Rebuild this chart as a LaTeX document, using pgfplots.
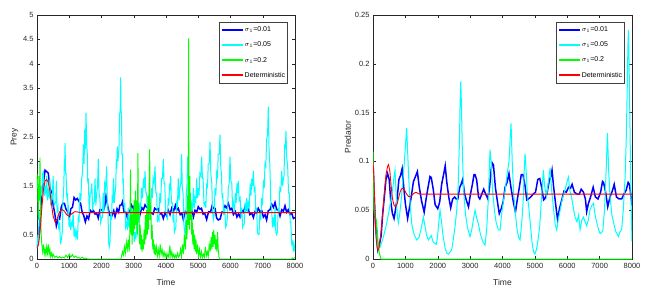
\documentclass[border=0pt]{standalone}
\usepackage{fontspec}
\setmainfont{Liberation Sans}
\usepackage{pgfplots}
\pgfplotsset{compat=1.18}
\definecolor{mblue}{rgb}{0,0,1}
\definecolor{mcyan}{rgb}{0,1,1}
\definecolor{mgreen}{rgb}{0,1,0}
\definecolor{mred}{rgb}{1,0,0}
\definecolor{frame}{gray}{0.15}
\pgfplotsset{
  mystyle/.style={
    scale only axis,
    anchor=south west,
    height=244pt,
    xmin=0, xmax=8000,
    xtick={0,1000,...,8000},
    tick pos=both, tick align=inside,
    major tick length=3pt,
    axis line style={frame, line width=0.5pt},
    tick style={frame, line width=0.4pt},
    every tick label/.append style={font=\fontsize{7.5}{9}\selectfont, text=frame},
    /pgf/number format/assume math mode=true,
    /pgf/number format/1000 sep={},
    scaled x ticks=false, scaled y ticks=false,
    yticklabel style={/pgf/number format/fixed, /pgf/number format/precision=2},
    xticklabel style={yshift=-1pt},
    label style={font=\fontsize{8.5}{10}\selectfont, text=frame},
    xlabel={Time},
    xlabel style={at={(axis description cs:0.5,-0.098)}, anchor=center},
    legend style={at={(1,1)}, anchor=north east, xshift=-7pt, yshift=-7pt,
      font=\fontsize{7}{8}\selectfont, draw=black!75, line width=0.6pt,
      inner xsep=1.5pt, inner ysep=2.5pt, row sep=4.6pt,
      nodes={inner sep=1pt, text height=6pt, text depth=2.5pt},
      cells={anchor=west}},
    legend image code/.code={\draw[#1, line width=2pt] (0pt,0pt) -- (21pt,0pt);},
  }
}
\begin{document}
\begin{tikzpicture}
\path[use as bounding box] (0,0) rectangle (652pt,292pt);
% ---------------- Prey ----------------
\begin{axis}[mystyle, at={(37pt,33pt)}, width=258pt,
  ymin=0, ymax=5, ytick={0,0.5,...,5},
  ylabel={Prey}, ylabel style={at={(axis description cs:-0.087,0.5)}, anchor=center}]
\addplot[mblue, line width=1.5pt] coordinates {
(0,0.22)(50,0.44)(100,0.86)(150,1.39)(200,1.56)(250,1.82)(300,1.79)(350,1.76)(400,1.46)(450,1.36)(500,1.11)(550,0.94)(600,0.68)(650,0.81)(700,0.81)(750,1.06)(800,1.14)(850,1.14)(900,1.02)(950,0.97)(1000,0.84)(1050,1.03)(1100,1.06)(1150,1.26)(1200,1.21)(1250,1.24)(1300,1.18)(1350,1.14)(1400,0.96)(1450,0.89)(1500,0.76)(1550,0.88)(1600,0.82)(1650,1.0)(1700,0.96)(1750,0.99)(1800,0.92)(1850,0.94)(1900,0.84)(1950,1.01)(2000,1.01)(2050,0.97)(2100,1.08)(2140,1.29)(2200,1.06)(2260,0.89)(2320,0.88)(2380,0.99)(2420,0.87)(2480,1.03)(2530,0.96)(2570,1.1)(2620,1.11)(2650,1.17)(2700,0.96)(2750,0.96)(2800,0.85)(2850,1.0)(2900,0.96)(2935,1.1)(2990,1.03)(3040,1.14)(3100,0.96)(3150,1.02)(3190,0.9)(3250,1.05)(3300,1.01)(3350,1.11)(3400,1.06)(3450,1.04)(3500,0.92)(3555,0.94)(3600,0.92)(3650,1.04)(3710,1.01)(3760,1.03)(3810,0.92)(3860,0.94)(3917,0.83)(3970,0.95)(4020,0.89)(4070,1.0)(4124,0.91)(4180,1.05)(4240,0.99)(4290,1.1)(4330,1.0)(4380,1.04)(4440,0.91)(4490,0.94)(4537,0.81)(4600,0.97)(4650,0.93)(4690,1.04)(4740,0.92)(4800,0.98)(4850,0.86)(4900,1.0)(4950,0.96)(5000,1.07)(5054,1.02)(5100,1.04)(5150,0.92)(5200,0.94)(5260,0.81)(5320,0.97)(5380,0.96)(5430,1.09)(5468,1.04)(5520,1.04)(5570,0.84)(5620,0.8)(5680,0.82)(5730,0.96)(5778,0.96)(5830,1.09)(5880,1.05)(5933,1.14)(5990,1.01)(6040,1.04)(6090,0.91)(6150,0.97)(6200,0.86)(6250,0.93)(6295,0.86)(6350,1.0)(6400,0.96)(6450,1.07)(6500,1.01)(6550,1.04)(6600,0.91)(6660,0.94)(6710,0.85)(6760,0.97)(6810,0.94)(6860,1.04)(6915,0.97)(6970,0.99)(7020,0.86)(7070,0.91)(7120,0.8)(7170,0.99)(7225,1.01)(7280,1.12)(7330,1.06)(7380,1.16)(7430,1.01)(7480,1.01)(7535,0.88)(7590,1.01)(7640,0.98)(7690,1.09)(7740,0.96)(7790,1.01)(7845,0.91)(7900,0.94)(7950,0.83)(8000,0.85)
};
\addlegendentry{$\sigma_1$=0.01}
\addplot[mcyan, line width=1pt] coordinates {
(0,0.22)(25,0.45)(50,0.4)(75,0.95)(100,0.85)(125,1.5)(150,1.3)(175,1.75)(196,1.78)(225,1.3)(250,1.45)(275,1.35)(300,1.7)(325,1.2)(350,1.4)(375,1.3)(400,1.65)(425,1.1)(450,1.3)(475,1.25)(500,1.7)(530,1.1)(560,1.15)(580,1.15)(600,1.6)(625,0.95)(650,1.05)(675,0.6)(700,0.75)(730,0.3)(765,0.45)(785,0.55)(800,1.15)(825,1.35)(850,2.05)(860,2.0)(870,2.38)(885,1.75)(900,1.75)(925,1.25)(950,1.35)(960,0.9)(970,1.1)(995,0.65)(1020,0.85)(1045,0.6)(1075,0.75)(1100,0.7)(1120,0.95)(1150,0.45)(1180,0.6)(1205,0.45)(1230,0.55)(1255,0.4)(1280,0.85)(1305,0.8)(1330,1.35)(1360,1.2)(1385,1.65)(1410,1.75)(1440,2.35)(1460,1.95)(1480,2.65)(1500,2.25)(1520,3.0)(1540,2.35)(1560,2.15)(1575,1.55)(1590,1.65)(1620,0.95)(1650,1.35)(1675,1.35)(1700,1.55)(1725,1.0)(1747,1.15)(1775,1.15)(1800,1.65)(1825,1.1)(1850,1.35)(1875,1.45)(1900,2.05)(1925,1.35)(1950,1.25)(1975,0.75)(2005,0.85)(2030,0.85)(2050,1.35)(2075,0.95)(2100,1.55)(2130,1.45)(2160,1.9)(2180,1.15)(2200,1.05)(2220,0.35)(2240,0.25)(2265,0.35)(2290,0.95)(2310,0.8)(2330,1.25)(2350,1.2)(2370,1.65)(2395,1.15)(2420,1.35)(2440,1.45)(2460,2.05)(2475,1.85)(2490,2.3)(2510,2.0)(2530,2.15)(2545,2.35)(2560,2.95)(2580,3.05)(2594,3.72)(2605,3.05)(2620,2.95)(2635,2.15)(2650,2.15)(2665,1.55)(2677,1.65)(2700,1.05)(2720,1.15)(2750,0.65)(2780,0.75)(2805,0.6)(2830,1.05)(2855,0.65)(2880,0.85)(2905,0.7)(2935,1.05)(2960,0.6)(2990,0.75)(3015,0.35)(3040,0.55)(3065,0.4)(3090,0.65)(3115,0.55)(3140,0.95)(3165,0.75)(3190,1.15)(3215,1.0)(3240,1.45)(3270,1.25)(3300,1.65)(3325,1.45)(3350,1.8)(3375,1.35)(3400,1.35)(3425,0.85)(3450,0.95)(3475,0.8)(3500,1.15)(3525,1.0)(3555,1.45)(3575,1.25)(3600,1.65)(3630,1.55)(3660,1.9)(3685,1.35)(3710,1.35)(3735,0.75)(3760,0.85)(3785,0.8)(3810,1.35)(3835,1.15)(3860,1.65)(3890,1.65)(3917,2.05)(3940,1.55)(3960,1.55)(3990,0.95)(4020,0.95)(4045,0.8)(4070,1.25)(4090,1.1)(4110,1.55)(4130,1.4)(4145,1.7)(4170,1.15)(4200,1.15)(4220,0.75)(4240,0.95)(4260,0.55)(4280,0.6)(4305,0.65)(4330,1.15)(4355,1.1)(4380,1.65)(4405,1.2)(4430,1.45)(4460,1.55)(4485,2.15)(4505,1.45)(4530,1.35)(4560,0.65)(4590,0.5)(4610,0.7)(4630,1.35)(4650,1.5)(4672,2.1)(4695,1.65)(4720,1.65)(4740,1.2)(4760,1.35)(4780,0.95)(4800,1.15)(4825,1.0)(4850,1.45)(4875,1.05)(4900,1.25)(4925,1.15)(4950,1.65)(4975,1.25)(5000,1.45)(5025,1.3)(5050,1.75)(5080,1.7)(5106,2.1)(5130,1.65)(5150,1.65)(5180,1.1)(5210,1.15)(5235,1.05)(5260,1.55)(5285,1.45)(5310,1.95)(5340,1.95)(5365,2.4)(5390,1.75)(5420,1.55)(5445,0.95)(5468,0.8)(5495,0.9)(5520,1.45)(5545,1.3)(5570,1.75)(5595,1.65)(5620,2.15)(5650,2.15)(5675,2.55)(5700,1.85)(5720,1.75)(5740,1.25)(5757,1.35)(5790,0.9)(5820,1.05)(5850,0.65)(5880,0.7)(5905,0.85)(5930,1.45)(5960,1.55)(5985,2.1)(6010,1.6)(6040,1.55)(6065,1.05)(6090,1.15)(6120,0.95)(6150,1.35)(6175,1.15)(6200,1.55)(6220,1.35)(6243,1.6)(6270,1.2)(6300,1.25)(6325,0.85)(6350,1.05)(6375,0.65)(6400,0.7)(6425,0.7)(6450,1.15)(6475,0.95)(6500,1.25)(6525,0.95)(6550,1.15)(6580,1.05)(6610,1.55)(6635,1.3)(6660,1.65)(6685,1.5)(6710,1.8)(6735,1.4)(6760,1.45)(6785,0.95)(6810,1.05)(6835,0.55)(6860,0.5)(6885,0.5)(6910,0.95)(6940,0.8)(6966,1.25)(6990,1.1)(7020,1.55)(7045,1.45)(7070,1.95)(7095,1.9)(7120,2.45)(7150,2.55)(7173,3.12)(7195,2.25)(7220,1.95)(7250,1.15)(7276,1.05)(7300,0.65)(7330,0.85)(7355,0.65)(7380,1.05)(7405,0.55)(7430,0.5)(7455,0.55)(7480,1.05)(7505,0.95)(7530,1.45)(7560,1.4)(7587,1.8)(7615,1.5)(7640,1.65)(7660,1.7)(7680,2.35)(7700,2.25)(7720,2.62)(7745,2.05)(7770,1.95)(7800,1.35)(7825,1.35)(7850,0.75)(7870,0.75)(7900,0.3)(7928,0.35)(7950,0.15)(7970,0.3)(8000,0.15)
};
\addlegendentry{$\sigma_1$=0.05}
\addplot[mgreen, line width=0.9pt] coordinates {
(0,1.75)(20,1.5)(40,0.8)(60,1.7)(80,1.2)(93,2.08)(110,1.0)(130,0.5)(150,0.3)(175,0.15)(200,0.3)(225,0.1)(250,0.2)(275,0.08)(300,0.25)(325,0.12)(350,0.3)(375,0.1)(400,0.2)(425,0.05)(450,0.12)(475,0.04)(500,0.1)(550,0.03)(600,0.06)(650,0.02)(700,0.05)(750,0.02)(800,0.04)(850,0.02)(900,0.08)(950,0.03)(1000,0.1)(1050,0.04)(1100,0.09)(1150,0.03)(1200,0.06)(1250,0.02)(1300,0.03)(1350,0.01)(1400,0.04)(1450,0.01)(1500,0.02)(1550,0.005)(1600,0.0)(2600,0.0)(2620,0.05)(2650,0.15)(2680,0.08)(2710,0.25)(2740,0.12)(2770,0.35)(2800,0.2)(2830,0.4)(2860,0.15)(2880,0.6)(2900,1.83)(2915,0.5)(2930,0.9)(2950,0.3)(2970,1.0)(2990,0.5)(3010,1.2)(3030,0.6)(3050,1.4)(3070,0.7)(3090,1.2)(3110,0.5)(3130,2.17)(3145,0.8)(3160,1.1)(3180,0.3)(3200,0.7)(3220,0.2)(3240,0.5)(3260,0.15)(3280,0.4)(3300,0.2)(3320,0.6)(3340,0.3)(3360,0.9)(3380,0.4)(3400,1.0)(3420,0.5)(3440,1.3)(3460,0.6)(3480,1.6)(3495,2.25)(3510,0.8)(3530,1.1)(3550,0.4)(3570,0.7)(3590,0.2)(3610,0.4)(3630,0.1)(3650,0.3)(3670,0.08)(3700,0.25)(3730,0.05)(3760,0.2)(3790,0.06)(3820,0.3)(3850,0.1)(3880,0.2)(3910,0.05)(3940,0.15)(3970,0.04)(4000,0.12)(4030,0.03)(4060,0.1)(4090,0.03)(4120,0.28)(4150,0.05)(4180,0.15)(4210,0.03)(4240,0.1)(4270,0.02)(4300,0.08)(4330,0.03)(4360,0.12)(4390,0.04)(4420,0.07)(4450,0.2)(4480,0.05)(4510,0.3)(4540,0.1)(4570,0.5)(4600,0.2)(4630,0.8)(4650,0.4)(4670,1.3)(4685,0.7)(4700,4.52)(4710,1.5)(4725,0.6)(4740,1.7)(4755,0.8)(4770,1.2)(4790,0.5)(4810,0.9)(4830,0.3)(4850,0.6)(4870,0.2)(4890,0.5)(4910,0.15)(4930,0.4)(4950,0.1)(4980,0.3)(5010,0.05)(5040,0.2)(5070,0.04)(5100,0.15)(5130,0.03)(5160,0.1)(5190,0.04)(5220,0.25)(5250,0.06)(5280,0.15)(5310,0.05)(5340,0.3)(5370,0.15)(5400,0.45)(5420,0.2)(5440,0.55)(5460,0.25)(5480,0.6)(5500,0.3)(5520,0.5)(5540,0.2)(5560,0.4)(5580,0.15)(5600,0.55)(5620,0.2)(5640,0.05)(5660,0.0)(7900,0.0)(7920,0.02)(7950,0.01)(8000,0.03)
};
\addlegendentry{$\sigma_1$=0.2}
\addplot[mred, line width=0.9pt] coordinates {
(0,0.22)(50,0.3)(100,0.6)(150,1.05)(200,1.42)(250,1.6)(300,1.63)(350,1.57)(400,1.4)(450,1.12)(500,0.88)(560,0.76)(620,0.82)(700,0.96)(765,1.02)(850,0.98)(920,0.91)(980,0.88)(1050,0.91)(1120,0.95)(1180,0.97)(1250,0.965)(1350,0.95)(1500,0.949)(8000,0.949)
};
\addlegendentry{Deterministic}
\end{axis}
% ---------------- Predator ----------------
\begin{axis}[mystyle, at={(373pt,33pt)}, width=259pt,
  ymin=0, ymax=0.25, ytick={0,0.05,...,0.25},
  ylabel={Predator}, ylabel style={at={(axis description cs:-0.097,0.5)}, anchor=center}]
\addplot[mblue, line width=1.5pt] coordinates {
(0,0.1)(30,0.0715)(60,0.0435)(100,0.0265)(150,0.0095)(200,0.0155)(250,0.0235)(300,0.0465)(350,0.0635)(400,0.0815)(450,0.0875)(500,0.0815)(550,0.0585)(600,0.0465)(650,0.0415)(700,0.0515)(750,0.0635)(800,0.0815)(850,0.0855)(900,0.0925)(950,0.0735)(1000,0.0565)(1070,0.0415)(1120,0.0515)(1180,0.0635)(1250,0.0795)(1300,0.0835)(1370,0.0895)(1430,0.0735)(1500,0.0595)(1580,0.048)(1640,0.0615)(1700,0.0735)(1760,0.0845)(1800,0.0835)(1860,0.0715)(1920,0.0555)(2000,0.0515)(2060,0.0585)(2120,0.0765)(2180,0.0865)(2230,0.0955)(2280,0.0785)(2340,0.0635)(2400,0.0525)(2460,0.0615)(2520,0.0635)(2570,0.0615)(2620,0.0615)(2680,0.0735)(2720,0.0765)(2770,0.0815)(2830,0.0665)(2890,0.0595)(2950,0.0535)(3010,0.0665)(3070,0.0765)(3120,0.0865)(3150,0.0865)(3200,0.0815)(3260,0.0635)(3300,0.0615)(3360,0.0665)(3420,0.0715)(3480,0.0665)(3550,0.0615)(3600,0.0735)(3650,0.0915)(3680,0.0985)(3720,0.0965)(3780,0.0735)(3840,0.0595)(3900,0.0465)(3960,0.0515)(4020,0.0585)(4080,0.0735)(4140,0.0785)(4200,0.0875)(4260,0.0735)(4330,0.0595)(4400,0.048)(4460,0.0615)(4520,0.0735)(4580,0.0865)(4630,0.0865)(4690,0.0765)(4750,0.0605)(4800,0.0615)(4870,0.0635)(4950,0.0665)(5020,0.0685)(5090,0.0815)(5150,0.0825)(5210,0.0735)(5270,0.0605)(5300,0.0615)(5370,0.0665)(5440,0.0795)(5500,0.0855)(5530,0.091)(5580,0.0735)(5640,0.0565)(5700,0.0405)(5760,0.0515)(5830,0.0605)(5900,0.0695)(5970,0.0685)(6040,0.0735)(6100,0.0725)(6150,0.0765)(6220,0.0685)(6300,0.0665)(6370,0.0665)(6430,0.0715)(6500,0.0685)(6560,0.0615)(6600,0.0485)(6650,0.0565)(6720,0.0635)(6800,0.0735)(6870,0.0635)(6950,0.0615)(7030,0.0685)(7090,0.0795)(7120,0.0785)(7180,0.0695)(7250,0.0535)(7320,0.0635)(7400,0.0705)(7450,0.0765)(7520,0.0635)(7600,0.0615)(7680,0.0615)(7750,0.0665)(7820,0.0705)(7880,0.0785)(7920,0.0765)(7960,0.0665)(8000,0.055)
};
\addlegendentry{$\sigma_1$=0.01}
\addplot[mcyan, line width=1pt] coordinates {
(0,0.1)(30,0.07)(60,0.045)(100,0.025)(150,0.012)(216,0.012)(300,0.02)(400,0.033)(500,0.05)(560,0.062)(620,0.075)(650,0.085)(680,0.091)(710,0.07)(750,0.045)(783,0.037)(820,0.045)(870,0.06)(920,0.08)(970,0.1)(1000,0.115)(1040,0.134)(1070,0.11)(1100,0.085)(1150,0.055)(1200,0.035)(1270,0.025)(1350,0.0195)(1420,0.022)(1480,0.03)(1555,0.043)(1600,0.035)(1650,0.025)(1710,0.0195)(1760,0.022)(1800,0.024)(1850,0.018)(1900,0.016)(1960,0.015)(2000,0.025)(2040,0.04)(2070,0.05)(2110,0.04)(2160,0.025)(2220,0.012)(2277,0.006)(2330,0.005)(2400,0.008)(2432,0.01)(2480,0.02)(2540,0.035)(2586,0.05)(2630,0.075)(2670,0.12)(2690,0.16)(2710,0.1817)(2730,0.16)(2760,0.11)(2790,0.08)(2812,0.064)(2860,0.045)(2920,0.032)(2997,0.023)(3050,0.03)(3100,0.04)(3152,0.05)(3200,0.042)(3255,0.036)(3320,0.025)(3400,0.017)(3461,0.0143)(3510,0.03)(3560,0.06)(3590,0.09)(3616,0.112)(3650,0.1)(3690,0.071)(3750,0.05)(3800,0.038)(3873,0.03)(3924,0.0297)(3970,0.045)(4030,0.06)(4080,0.07)(4130,0.084)(4200,0.1)(4240,0.125)(4264,0.139)(4300,0.1)(4340,0.07)(4388,0.05)(4450,0.03)(4500,0.022)(4542,0.0195)(4590,0.035)(4640,0.06)(4670,0.09)(4697,0.108)(4730,0.09)(4770,0.065)(4820,0.05)(4870,0.032)(4920,0.015)(4960,0.007)(5000,0.005)(5050,0.01)(5100,0.02)(5150,0.034)(5200,0.06)(5263,0.091)(5300,0.075)(5360,0.064)(5420,0.08)(5469,0.093)(5520,0.07)(5580,0.05)(5630,0.035)(5676,0.0297)(5720,0.04)(5780,0.05)(5850,0.062)(5933,0.071)(6000,0.08)(6036,0.084)(6080,0.07)(6130,0.064)(6200,0.05)(6242,0.043)(6300,0.038)(6350,0.045)(6397,0.03)(6450,0.04)(6500,0.043)(6550,0.038)(6600,0.034)(6650,0.04)(6700,0.05)(6760,0.055)(6808,0.057)(6860,0.045)(6920,0.036)(6970,0.03)(7014,0.026)(7060,0.027)(7100,0.0297)(7150,0.05)(7200,0.09)(7242,0.129)(7280,0.09)(7320,0.064)(7380,0.045)(7440,0.036)(7500,0.028)(7581,0.023)(7630,0.028)(7680,0.03)(7730,0.05)(7787,0.084)(7820,0.12)(7850,0.17)(7875,0.22)(7890,0.2346)(7910,0.2)(7940,0.13)(7970,0.06)(8000,0.018)
};
\addlegendentry{$\sigma_1$=0.05}
\addplot[mgreen, line width=1pt] coordinates {
(0,0.11)(15,0.08)(30,0.05)(60,0.045)(100,0.04)(130,0.03)(160,0.015)(200,0.005)(250,0.0)(8000,0.0)
};
\addlegendentry{$\sigma_1$=0.2}
\addplot[mred, line width=0.9pt] coordinates {
(0,0.1)(25,0.085)(50,0.06)(75,0.035)(100,0.02)(125,0.012)(150,0.009)(175,0.01)(200,0.014)(250,0.028)(300,0.047)(350,0.068)(400,0.086)(450,0.095)(480,0.0967)(520,0.09)(560,0.075)(600,0.062)(650,0.055)(700,0.0536)(750,0.057)(800,0.064)(850,0.07)(900,0.0724)(950,0.072)(1000,0.069)(1050,0.066)(1100,0.064)(1150,0.0639)(1200,0.065)(1250,0.067)(1300,0.068)(1350,0.068)(1400,0.067)(1450,0.0665)(1500,0.0665)(8000,0.0665)
};
\addlegendentry{Deterministic}
\end{axis}
\end{tikzpicture}
\end{document}
